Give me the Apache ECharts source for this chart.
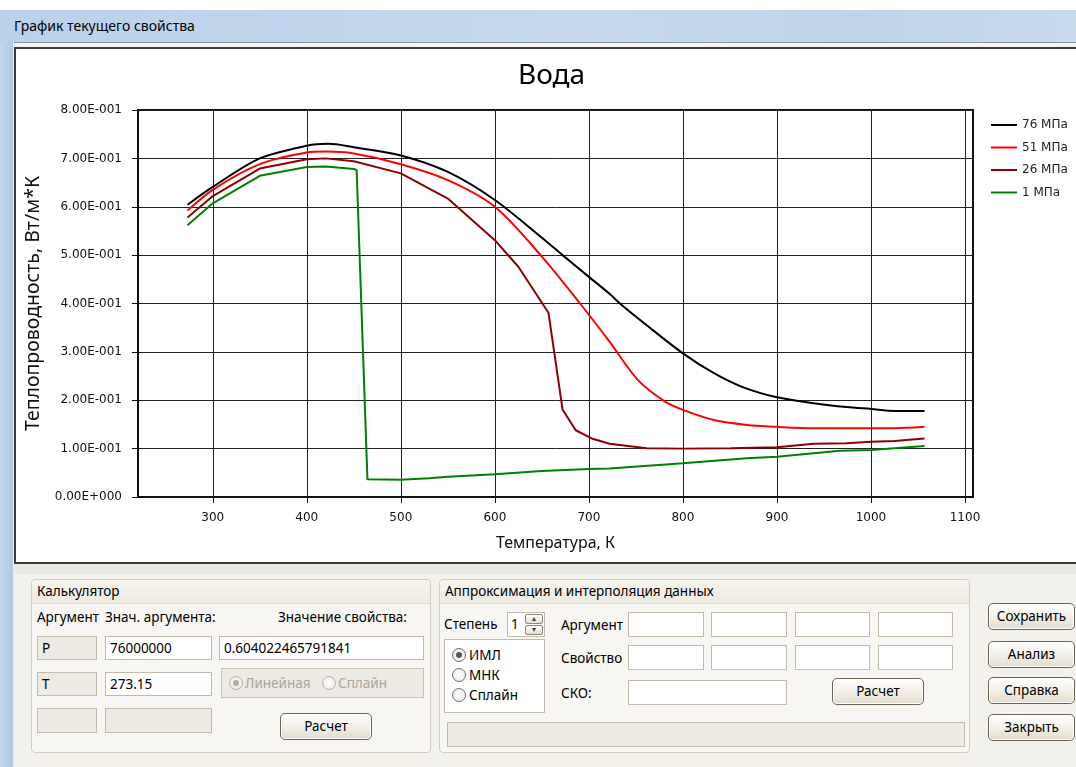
<!DOCTYPE html>
<html><head><meta charset="utf-8">
<script src="https://cdn.jsdelivr.net/npm/echarts@6/dist/echarts.min.js"></script>
<style>
html,body{margin:0;padding:0;width:1076px;height:767px;overflow:hidden;background:#fff;font-family:"Noto Sans",sans-serif;color:#000;}
.a{position:absolute;box-sizing:border-box;}
.t{position:absolute;white-space:nowrap;font-size:13.5px;line-height:18px;}
.box{position:absolute;box-sizing:border-box;border:1px solid #C2BAAB;background:#fff;font-size:13.5px;line-height:22px;padding-left:4px;white-space:nowrap;}
.dis{background:#EDEAE3;}
.grp{position:absolute;box-sizing:border-box;border:1px solid #D3CCBE;border-radius:4px;background:#F7F6F2;}
.grph{position:absolute;left:0;top:0;right:0;height:23px;border-bottom:1px solid #E0DACF;background:linear-gradient(#F6F4EE,#EEEAE2);border-radius:4px 4px 0 0;font-size:13.5px;line-height:22px;padding-left:5px;white-space:nowrap;}
.btn{position:absolute;box-sizing:border-box;border:1px solid #6F6453;border-radius:5px;background:linear-gradient(#FFFFFF,#F3F0EA 50%,#E3DCCD);font-size:13.5px;text-align:center;line-height:24px;white-space:nowrap;box-shadow:inset 0 0 0 1px #fff;}
.rad{position:absolute;box-sizing:border-box;width:14px;height:14px;border:1px solid #6E6E6E;border-radius:50%;background:radial-gradient(#fff,#E6E3DC);}
.rad.on::after{content:"";position:absolute;left:3px;top:3px;width:6px;height:6px;border-radius:50%;background:#555;}
.rad.gr{border-color:#B8B4AC;}
.rad.gr.on::after{background:#B0ACA4;}
</style></head><body>
<!-- window chrome -->
<div class="a" style="left:0;top:10px;width:1076px;height:32px;background:linear-gradient(to right,#BAD1EA,#C6D9EE 55%,#BFD4EB 80%,#C8DAEE);"></div>
<div class="t" style="left:14px;top:17px;font-size:14px;">График текущего свойства</div>
<div class="a" style="left:0;top:42px;width:1076px;height:1px;background:#8C97A3;"></div>
<div class="a" style="left:0;top:43px;width:1076px;height:4px;background:#F2F4F6;"></div>
<div class="a" style="left:0;top:42px;width:13px;height:725px;background:linear-gradient(to right,#C3D7EE,#AFC8E4);"></div>
<div class="a" style="left:13px;top:42px;width:1px;height:725px;background:#E8EEF5;"></div>
<div class="a" style="left:14px;top:47px;width:1080px;height:517px;border:2px solid #3C3C3C;background:#fff;"></div>
<div class="a" style="left:14px;top:564px;width:1062px;height:203px;background:#F3F1EC;"></div>
<div class="a" style="left:14px;top:564px;width:1062px;height:10px;background:#E9E8E4;"></div>
<div id="chart" class="a" style="left:16px;top:49px;width:1060px;height:513px;"></div>

<!-- Калькулятор -->
<div class="grp" style="left:31px;top:579px;width:400px;height:174px;"><div class="grph">Калькулятор</div></div>
<div class="t" style="left:37px;top:608px;">Аргумент</div>
<div class="t" style="left:105px;top:608px;">Знач. аргумента:</div>
<div class="t" style="left:278px;top:608px;">Значение свойства:</div>
<div class="box dis" style="left:37px;top:636px;width:60px;height:24px;">P</div>
<div class="box" style="left:105px;top:636px;width:107px;height:24px;">76000000</div>
<div class="box" style="left:219px;top:636px;width:205px;height:24px;">0.604022465791841</div>
<div class="box dis" style="left:37px;top:672px;width:60px;height:24px;">T</div>
<div class="box" style="left:105px;top:672px;width:107px;height:24px;">273.15</div>
<div class="box dis" style="left:221px;top:668px;width:203px;height:30px;border-color:#C9C2B4;"></div>
<div class="rad gr on" style="left:229px;top:676px;"></div>
<div class="t" style="left:245px;top:674px;color:#A9A59E;">Линейная</div>
<div class="rad gr" style="left:322px;top:676px;"></div>
<div class="t" style="left:338px;top:674px;color:#A9A59E;">Сплайн</div>
<div class="box dis" style="left:37px;top:708px;width:60px;height:25px;"></div>
<div class="box dis" style="left:105px;top:708px;width:107px;height:25px;"></div>
<div class="btn" style="left:280px;top:713px;width:92px;height:27px;">Расчет</div>

<!-- Аппроксимация -->
<div class="grp" style="left:439px;top:579px;width:531px;height:174px;"><div class="grph">Аппроксимация и интерполяция данных</div></div>
<div class="t" style="left:444px;top:615px;">Степень</div>
<div class="box" style="left:507px;top:612px;width:38px;height:25px;padding-left:3px;">1</div>
<div class="a" style="left:525px;top:614px;width:18px;height:10px;border:1px solid #8E8678;border-radius:2px;background:linear-gradient(#fff,#E4DED2);font-size:7px;line-height:8px;text-align:center;color:#444;">▲</div>
<div class="a" style="left:525px;top:625px;width:18px;height:10px;border:1px solid #8E8678;border-radius:2px;background:linear-gradient(#fff,#E4DED2);font-size:7px;line-height:8px;text-align:center;color:#444;">▼</div>
<div class="box" style="left:444px;top:639px;width:101px;height:74px;"></div>
<div class="rad on" style="left:452px;top:648px;"></div>
<div class="t" style="left:469px;top:646px;">ИМЛ</div>
<div class="rad" style="left:452px;top:668px;"></div>
<div class="t" style="left:469px;top:666px;">МНК</div>
<div class="rad" style="left:452px;top:688px;"></div>
<div class="t" style="left:469px;top:686px;">Сплайн</div>
<div class="t" style="left:561px;top:616px;">Аргумент</div>
<div class="t" style="left:561px;top:649px;">Свойство</div>
<div class="t" style="left:561px;top:684px;">СКО:</div>
<div class="box" style="left:628px;top:612px;width:76px;height:25px;"></div>
<div class="box" style="left:711px;top:612px;width:76px;height:25px;"></div>
<div class="box" style="left:795px;top:612px;width:75px;height:25px;"></div>
<div class="box" style="left:878px;top:612px;width:75px;height:25px;"></div>
<div class="box" style="left:628px;top:645px;width:76px;height:25px;"></div>
<div class="box" style="left:711px;top:645px;width:76px;height:25px;"></div>
<div class="box" style="left:795px;top:645px;width:75px;height:25px;"></div>
<div class="box" style="left:878px;top:645px;width:75px;height:25px;"></div>
<div class="box" style="left:628px;top:680px;width:159px;height:25px;"></div>
<div class="btn" style="left:832px;top:678px;width:92px;height:27px;">Расчет</div>
<div class="box dis" style="left:447px;top:722px;width:518px;height:25px;"></div>

<!-- right buttons -->
<div class="btn" style="left:988px;top:603px;width:87px;height:27px;">Сохранить</div>
<div class="btn" style="left:988px;top:641px;width:87px;height:27px;">Анализ</div>
<div class="btn" style="left:988px;top:677px;width:87px;height:27px;">Справка</div>
<div class="btn" style="left:988px;top:714px;width:87px;height:27px;">Закрыть</div>

<script>
// ---- chart data ----
const chartTitle = 'Вода';
const xAxisTitle = 'Температура, К';
const yAxisTitle = 'Теплопроводность, Вт/м*К';
const seriesNames = ['76 МПа', '51 МПа', '26 МПа', '1 МПа'];
const seriesColors = ['#000000', '#FF0000', '#8B0000', '#008000'];
const seriesSmooth = [0.3, 0.3, 0, 0];
const xTickValues = [300, 400, 500, 600, 700, 800, 900, 1000, 1100];

// 76 МПа
const t76 = [273.15, 300, 350, 400, 423, 450, 500, 550, 600, 650, 672, 700, 722, 733, 761.5, 800, 833, 865, 900, 939, 974, 1000, 1025, 1057];
const k76 = [0.604, 0.641, 0.700, 0.726, 0.730, 0.723, 0.706, 0.672, 0.614, 0.536, 0.500, 0.455, 0.420, 0.400, 0.355, 0.297, 0.256, 0.226, 0.206, 0.194, 0.186, 0.182, 0.178, 0.178];
// 51 МПа
const t51 = [273.15, 300, 350, 400, 420, 450, 500, 550, 600, 650, 690.6, 722, 752, 781, 800, 833, 868, 900, 939, 1000, 1025, 1057];
const k51 = [0.592, 0.635, 0.688, 0.712, 0.714, 0.710, 0.688, 0.655, 0.600, 0.497, 0.400, 0.321, 0.242, 0.197, 0.180, 0.159, 0.149, 0.145, 0.142, 0.142, 0.142, 0.145];
// 26 МПа
const t26 = [273.15, 300, 350, 400, 420, 450, 500, 550, 600, 625, 657, 672, 686, 703, 722, 761.5, 800, 851, 900, 939, 974, 1000, 1025, 1057];
const k26 = [0.578, 0.622, 0.679, 0.698, 0.700, 0.694, 0.669, 0.617, 0.531, 0.476, 0.381, 0.181, 0.138, 0.121, 0.110, 0.1006, 0.100, 0.1006, 0.103, 0.110, 0.111, 0.114, 0.116, 0.121];
// 1 МПа
const t1 = [273.15, 300, 350, 400, 420, 450, 453, 464.5, 500, 530, 550, 600, 650, 700, 722, 800, 868, 900, 967, 1000, 1057];
const k1 = [0.562, 0.607, 0.664, 0.682, 0.683, 0.678, 0.676, 0.0365, 0.0358, 0.0386, 0.042, 0.047, 0.0537, 0.058, 0.059, 0.0696, 0.080, 0.083, 0.0957, 0.097, 0.1054];

const seriesT = [t76, t51, t26, t1];
const seriesK = [k76, k51, k26, k1];

function sci(v) {
  const s = Number(v).toExponential(2);
  const parts = s.split('e');
  const n = parseInt(parts[1], 10);
  return parts[0].toUpperCase() + 'E' + (n < 0 ? '-' : '+') + String(Math.abs(n)).padStart(3, '0');
}

const chart = echarts.init(document.getElementById('chart'), null, {renderer: 'canvas'});
chart.setOption({
  animation: false,
  backgroundColor: 'transparent',
  title: {
    text: chartTitle, left: 502, top: 13, padding: 0,
    textStyle: {fontFamily: 'Noto Sans', fontSize: 28, fontWeight: 'normal', color: '#000'}
  },
  legend: {
    orient: 'vertical', left: 975, top: 70, padding: 0,
    icon: 'rect', itemWidth: 26, itemHeight: 2, itemGap: 10.5,
    textStyle: {fontFamily: 'DejaVu Sans', fontSize: 12, color: '#222'},
    data: seriesNames
  },
  grid: {
    left: 122, top: 61, width: 835, height: 387,
    show: true, borderColor: '#111', borderWidth: 2,
    containLabel: false, outerBoundsMode: 'none'
  },
  xAxis: {
    type: 'value', min: 220.5, max: 1108.5, minInterval: 100, maxInterval: 100, splitNumber: 9,
    axisLine: {show: true, onZero: false, lineStyle: {color: '#111', width: 2}},
    axisTick: {show: true, customValues: xTickValues, length: 6, lineStyle: {color: '#111', width: 1}},
    axisLabel: {customValues: xTickValues, margin: 15, fontFamily: 'DejaVu Sans', fontSize: 12, color: '#111',
      formatter: function (v) { return (v % 100 === 0) ? String(v) : ''; }},
    splitLine: {show: true, lineStyle: {color: '#222', width: 1}},
    name: xAxisTitle, nameLocation: 'middle', nameGap: 38,
    nameTextStyle: {fontFamily: 'Noto Sans', fontSize: 16, color: '#111'}
  },
  yAxis: {
    type: 'value', min: 0, max: 0.8, interval: 0.1,
    axisLine: {show: true, onZero: false, lineStyle: {color: '#111', width: 2}},
    axisTick: {show: true, length: 6, lineStyle: {color: '#111', width: 1}},
    axisLabel: {margin: 16, fontFamily: 'DejaVu Sans', fontSize: 12, color: '#111', formatter: sci},
    splitLine: {show: true, lineStyle: {color: '#222', width: 1}},
    name: yAxisTitle, nameLocation: 'middle', nameGap: 85,
    nameTextStyle: {fontFamily: 'Noto Sans', fontSize: 19.5, color: '#111'}
  },
  series: seriesNames.map(function (name, i) {
    return {
      name: name, type: 'line', symbol: 'none', showSymbol: false,
      smooth: seriesSmooth[i],
      color: seriesColors[i],
      lineStyle: {color: seriesColors[i], width: 2},
      data: seriesT[i].map(function (t, j) { return [t, seriesK[i][j]]; })
    };
  })
});
</script>
</body></html>
